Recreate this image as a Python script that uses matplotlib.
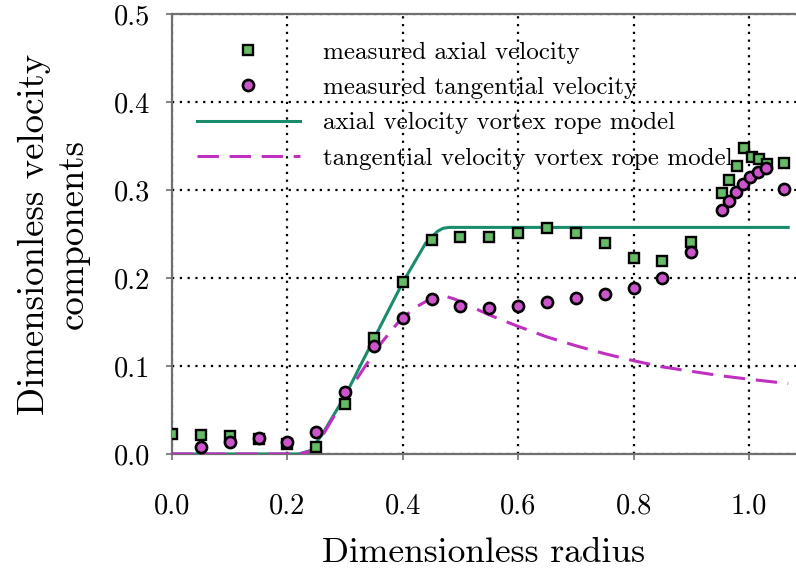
import matplotlib
matplotlib.use('Agg')
import matplotlib.pyplot as plt

plt.rcParams['font.family'] = 'serif'
plt.rcParams['font.serif'] = ['cmr10', 'DejaVu Serif']
plt.rcParams['mathtext.fontset'] = 'cm'
plt.rcParams['axes.formatter.use_mathtext'] = True

# measured axial velocity
r_axial = [0.0, 0.05, 0.10, 0.15, 0.20, 0.25, 0.30, 0.35, 0.40, 0.45, 0.50, 0.55,
           0.60, 0.65, 0.70, 0.75, 0.80, 0.85, 0.90,
           0.953, 0.965, 0.979, 0.992, 1.005, 1.018, 1.031, 1.061]
u_axial = [0.023, 0.022, 0.020, 0.017, 0.011, 0.008, 0.057, 0.132, 0.195, 0.243, 0.247, 0.247,
           0.251, 0.257, 0.251, 0.240, 0.223, 0.219, 0.241,
           0.297, 0.311, 0.327, 0.348, 0.338, 0.335, 0.330, 0.331]

# measured tangential velocity
r_tang = [0.05, 0.10, 0.15, 0.20, 0.25, 0.30, 0.35, 0.40, 0.45, 0.50, 0.55,
          0.60, 0.65, 0.70, 0.75, 0.80, 0.85, 0.90,
          0.953, 0.965, 0.978, 0.990, 1.002, 1.016, 1.029, 1.061]
u_tang = [0.008, 0.014, 0.018, 0.014, 0.025, 0.071, 0.123, 0.155, 0.176, 0.168, 0.166,
          0.168, 0.173, 0.177, 0.182, 0.189, 0.200, 0.230,
          0.277, 0.287, 0.298, 0.307, 0.315, 0.320, 0.325, 0.301]

# vortex rope model curves
r_model_ax = [0.0, 0.22, 0.24, 0.26, 0.28, 0.30, 0.35, 0.40, 0.44, 0.46, 0.47, 0.48, 0.50, 1.068]
u_model_ax = [0.0, 0.0, 0.004, 0.022, 0.044, 0.066, 0.131, 0.195, 0.240, 0.253, 0.2565, 0.2575,
              0.2575, 0.2575]

r_model_tg = [0.0, 0.22, 0.24, 0.26, 0.28, 0.30, 0.33, 0.36, 0.39, 0.42, 0.45, 0.47, 0.49,
              0.55, 0.60, 0.65, 0.70, 0.75, 0.80, 0.85, 0.90, 0.95, 1.00, 1.068]
u_model_tg = [0.0, 0.0, 0.003, 0.020, 0.042, 0.065, 0.095, 0.124, 0.148, 0.166, 0.177, 0.180,
              0.176, 0.158, 0.145, 0.133, 0.123, 0.114, 0.106, 0.099, 0.094, 0.089, 0.085, 0.080]

green = '#1a8c6e'
magenta = '#c030c0'
gray = '#707070'

fig = plt.figure(figsize=(7.96, 5.73), dpi=100)
ax = fig.add_axes([172 / 796, 119 / 573, 624 / 796, 440 / 573])

ax.plot(r_axial, u_axial, 's', ms=7.5, mfc='#66bb66', mec='black', mew=1.7,
        label='measured axial velocity', zorder=4)
ax.plot(r_tang, u_tang, 'o', ms=8, mfc='#cc55cc', mec='black', mew=1.9,
        label='measured tangential velocity', zorder=4)
ax.plot(r_model_ax, u_model_ax, '-', color=green, lw=2.2,
        label='axial velocity vortex rope model', zorder=3)
ax.plot(r_model_tg, u_model_tg, '--', color=magenta, lw=2.2, dashes=(7, 3.5),
        label='tangential velocity vortex rope model', zorder=3)

ax.set_xlim(0, 1.0815)
ax.set_ylim(0, 0.5)
ax.set_xticks([0.0, 0.2, 0.4, 0.6, 0.8, 1.0])
ax.set_yticks([0.0, 0.1, 0.2, 0.3, 0.4, 0.5])
ax.set_xticklabels(['0.0', '0.2', '0.4', '0.6', '0.8', '1.0'])
ax.set_yticklabels(['0.0', '0.1', '0.2', '0.3', '0.4', '0.5'])
ax.grid(True, color='black', linestyle=(0, (1, 2.5)), linewidth=1.6)
ax.set_axisbelow(True)

for side in ('left', 'top', 'bottom'):
    ax.spines[side].set_color(gray)
    ax.spines[side].set_linewidth(1.6)
ax.spines['right'].set_visible(False)
ax.tick_params(axis='x', direction='out', length=4, width=1.2, color=gray,
               labelsize=20.5, pad=24)
ax.tick_params(axis='y', direction='out', length=4, width=1.2, color=gray,
               labelsize=20.5, pad=12)

ax.set_xlabel('Dimensionless radius', fontsize=25.5, labelpad=13)
ax.set_ylabel('Dimensionless velocity\ncomponents', fontsize=26.5, labelpad=17,
              linespacing=1.2)

leg = ax.legend(loc='upper left', bbox_to_anchor=(197 / 796, 1 - 41 / 573),
                bbox_transform=fig.transFigure, frameon=False, fontsize=18,
                handlelength=4.1, handletextpad=0.95, labelspacing=0.52,
                borderpad=0, borderaxespad=0, numpoints=1)

fig.savefig('out.png', dpi=100)
